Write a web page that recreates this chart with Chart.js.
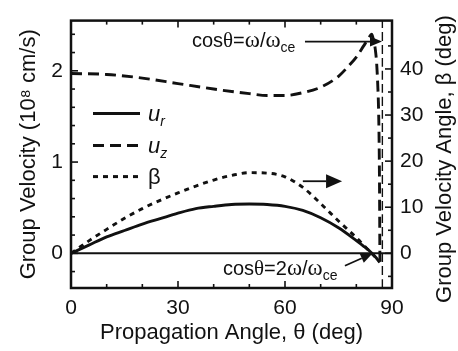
<!DOCTYPE html>
<html>
<head>
<meta charset="utf-8">
<script src="https://cdn.jsdelivr.net/npm/chart.js@4.4.1/dist/chart.umd.min.js"></script>
<style>
  html, body { margin: 0; padding: 0; background: #fff; }
</style>
</head>
<body>
<canvas id="chart" width="458" height="351"></canvas>
<script>
// values
const thetaR = [0, 5, 10, 15, 20, 25, 30, 35, 40, 45, 50, 55, 60, 65, 70, 75, 80, 82, 84, 85, 86, 86.6];
const uR = [0, 0.09, 0.18, 0.25, 0.32, 0.38, 0.44, 0.49, 0.515, 0.535, 0.54, 0.535, 0.515, 0.47, 0.39, 0.28, 0.14, 0.08, 0.015, -0.025, -0.07, -0.1];

const thetaZ = [0, 10, 20, 30, 40, 50, 55, 60, 65, 70, 75, 78, 80, 82, 83.5, 84.3, 84.8, 85.3, 85.7, 86.0, 86.25, 86.45, 86.55, 86.6, 86.7];
const uZ = [1.97, 1.96, 1.92, 1.86, 1.80, 1.75, 1.73, 1.73, 1.76, 1.82, 1.94, 2.06, 2.15, 2.27, 2.36, 2.40, 2.34, 2.24, 2.08, 1.85, 1.55, 1.0, 0.4, 0.0, -0.1];

const thetaB = [0, 5, 10, 15, 20, 25, 30, 35, 40, 45, 50, 55, 60, 65, 70, 75, 80, 83, 84.3, 85.5, 86.5];
const beta = [0, 2.7, 5.2, 7.6, 9.7, 11.5, 13.1, 14.6, 15.9, 16.9, 17.5, 17.4, 16.6, 14.3, 10.8, 7.0, 3.4, 1.0, 0, -1.0, -1.8];

const resonanceTheta = 87.3; // thin dashed vertical line

const xTicks = [0, 30, 60, 90];
const xMinor = [10, 20, 40, 50, 70, 80];
const yTicks = [0, 1, 2];
const yMinor = [-0.2, 0.2, 0.4, 0.6, 0.8, 1.2, 1.4, 1.6, 1.8, 2.2, 2.4];
const y1Ticks = [0, 10, 20, 30, 40];
const y1Minor = [-5, 5, 15, 25, 35, 45];

const yMin = -0.38, yMax = 2.55;
const ratio = 19.8; // deg per 10^8 cm/s, keeps both zeros aligned

const ink = "#111";
const sans = "'Liberation Sans', Arial, sans-serif";
const serif = "'Liberation Serif', 'Times New Roman', serif";

const pts = (xs, ys) => xs.map((v, i) => ({ x: v, y: ys[i] }));

function arrow(ctx, x0, y0, x1, y1, len, half) {
  const a = Math.atan2(y1 - y0, x1 - x0);
  const bx = x1 - len * Math.cos(a), by = y1 - len * Math.sin(a);
  ctx.beginPath();
  ctx.moveTo(x0, y0);
  ctx.lineTo(bx, by);
  ctx.stroke();
  ctx.beginPath();
  ctx.moveTo(x1, y1);
  ctx.lineTo(bx + half * Math.sin(a), by - half * Math.cos(a));
  ctx.lineTo(bx - half * Math.sin(a), by + half * Math.cos(a));
  ctx.closePath();
  ctx.fill();
}

function rich(ctx, x, y, parts) {
  ctx.textAlign = "left";
  ctx.textBaseline = "alphabetic";
  parts.forEach(([t, font, dy]) => {
    ctx.font = font;
    ctx.fillText(t, x, y + (dy || 0));
    x += ctx.measureText(t).width;
  });
}

const decor = {
  id: "decor",
  afterDatasetsDraw(chart) {
    const { ctx, chartArea: a, scales: { x, y, y1 } } = chart;
    ctx.save();
    ctx.strokeStyle = ink;
    ctx.fillStyle = ink;
    ctx.setLineDash([]);

    // inward ticks
    ctx.lineWidth = 1.6;
    const seg = (x0, y0, x1, y1_) => { ctx.beginPath(); ctx.moveTo(x0, y0); ctx.lineTo(x1, y1_); ctx.stroke(); };
    xTicks.forEach(v => { const p = x.getPixelForValue(v); seg(p, a.bottom, p, a.bottom - 7); seg(p, a.top, p, a.top + 7); });
    xMinor.forEach(v => { const p = x.getPixelForValue(v); seg(p, a.bottom, p, a.bottom - 4); seg(p, a.top, p, a.top + 4); });
    yTicks.forEach(v => { const p = y.getPixelForValue(v); seg(a.left, p, a.left + 7, p); });
    yMinor.forEach(v => { const p = y.getPixelForValue(v); seg(a.left, p, a.left + 4, p); });
    y1Ticks.forEach(v => { const p = y1.getPixelForValue(v); seg(a.right, p, a.right - 7, p); });
    y1Minor.forEach(v => { const p = y1.getPixelForValue(v); seg(a.right, p, a.right - 4, p); });

    // frame
    ctx.lineWidth = 2.5;
    ctx.strokeRect(a.left, a.top, a.width, a.height);

    // legend
    const lx0 = a.left + 22, lx1 = a.left + 69, tx = a.left + 77;
    const rows = [
      { y: a.top + 93, dash: [], label: [["u", "italic 22px " + sans], ["r", "italic 14px " + sans, 5]] },
      { y: a.top + 125, dash: [11, 6], label: [["u", "italic 22px " + sans], ["z", "italic 14px " + sans, 5]] },
      { y: a.top + 156, dash: [5, 5], label: [["β", "22px " + sans]] },
    ];
    rows.forEach(r => {
      ctx.lineWidth = 3;
      ctx.setLineDash(r.dash);
      seg(lx0, r.y, lx1, r.y);
      ctx.setLineDash([]);
      rich(ctx, tx, r.y + 7, r.label);
    });

    // annotations
    ctx.lineWidth = 1.8;
    const X = v => x.getPixelForValue(v), Y = v => y.getPixelForValue(v);
    rich(ctx, X(33.9), Y(2.26), [
      ["cos", "20px " + sans], ["θ", "21px " + serif], ["=", "20px " + sans],
      ["ω", "23px " + serif], ["/", "20px " + sans], ["ω", "23px " + serif], ["ce", "14px " + sans, 5],
    ]);
    arrow(ctx, X(65.6), Y(2.32), X(87.2), Y(2.32), 12, 5);

    rich(ctx, X(42.6), Y(-0.24), [
      ["cos", "20px " + sans], ["θ", "21px " + serif], ["=2", "20px " + sans],
      ["ω", "23px " + serif], ["/", "20px " + sans], ["ω", "23px " + serif], ["ce", "14px " + sans, 5],
    ]);
    arrow(ctx, X(76.8), Y(-0.136), X(84.6), Y(0.0), 12, 5);

    arrow(ctx, X(65), Y(0.79), X(76), Y(0.79), 16, 7);

    // right axis title, reads bottom to top like the left one
    ctx.save();
    ctx.translate(445, 159);
    ctx.rotate(-Math.PI / 2);
    ctx.font = "22px " + sans;
    ctx.textAlign = "center";
    ctx.textBaseline = "middle";
    ctx.fillText("Group Velocity Angle, β (deg)", 0, 0);
    ctx.restore();

    ctx.restore();
  },
};

const line = (data, extra) => Object.assign({
  data,
  borderColor: ink,
  borderWidth: 2.9,
  pointRadius: 0,
  fill: false,
  cubicInterpolationMode: "monotone",
  yAxisID: "y",
}, extra);

const noGrid = { display: false, drawTicks: false };

new Chart(document.getElementById("chart"), {
  type: "line",
  data: {
    datasets: [
      line(pts([0, 90], [0, 0]), { borderWidth: 2 }),
      line(pts([resonanceTheta, resonanceTheta], [yMin, yMax]), { borderWidth: 1.4, borderDash: [9, 4] }),
      line(pts(thetaR, uR)),
      line(pts(thetaZ, uZ), { borderDash: [11, 6] }),
      line(pts(thetaB, beta), { borderDash: [5, 5], yAxisID: "y1" }),
    ],
  },
  options: {
    responsive: false,
    animation: false,
    devicePixelRatio: 1,
    layout: { padding: { top: 12, left: 0, right: 0, bottom: 0 } },
    plugins: { legend: { display: false }, tooltip: { enabled: false } },
    scales: {
      x: {
        type: "linear",
        min: 0,
        max: 90,
        afterBuildTicks: s => { s.ticks = xTicks.map(v => ({ value: v })); },
        afterFit: s => { s.height = 63; },
        grid: noGrid,
        border: { display: false },
        ticks: { color: ink, font: { family: sans, size: 21 }, padding: 8, maxRotation: 0 },
        title: { display: true, text: "Propagation Angle, θ (deg)", color: ink, font: { family: sans, size: 22 }, padding: { top: 0, bottom: 5 } },
      },
      y: {
        type: "linear",
        position: "left",
        min: yMin,
        max: yMax,
        afterBuildTicks: s => { s.ticks = yTicks.map(v => ({ value: v })); },
        afterFit: s => { s.width = 71; },
        grid: noGrid,
        border: { display: false },
        ticks: { color: ink, font: { family: sans, size: 21 }, padding: 8 },
        title: { display: true, text: "Group Velocity (10⁸ cm/s)", color: ink, font: { family: sans, size: 22 }, padding: { top: 16, bottom: 0 } },
      },
      y1: {
        type: "linear",
        position: "right",
        min: yMin * ratio,
        max: yMax * ratio,
        afterBuildTicks: s => { s.ticks = y1Ticks.map(v => ({ value: v })); },
        afterFit: s => { s.width = 66; },
        grid: noGrid,
        border: { display: false },
        ticks: { color: ink, font: { family: sans, size: 21 }, padding: 8 },
        title: { display: false },
      },
    },
  },
  plugins: [decor],
});
</script>
</body>
</html>
